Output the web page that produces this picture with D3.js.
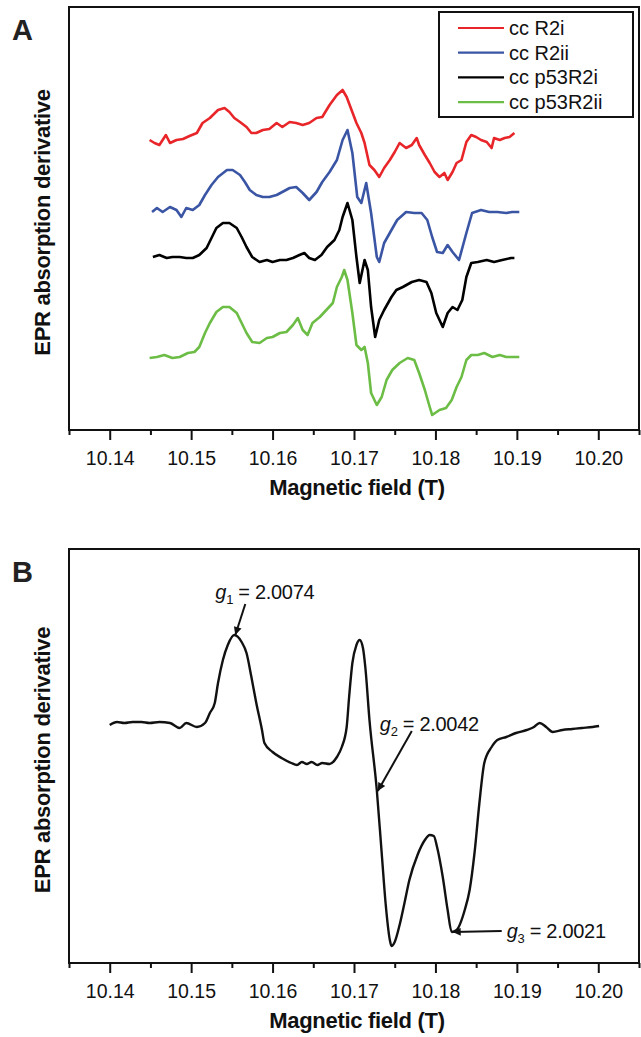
<!DOCTYPE html>
<html>
<head>
<meta charset="utf-8">
<script src="https://cdn.jsdelivr.net/npm/d3@7/dist/d3.min.js"></script>
<style>
  html, body { margin: 0; padding: 0; background: #fff; }
  svg { display: block; font-family: "Liberation Sans", Arial, Helvetica, sans-serif; }
</style>
</head>
<body>
<svg id="chart" width="641" height="1037"></svg>
<script>
// ---------------- DATA ----------------
// x: magnetic field (T), y: EPR absorption derivative (arbitrary units, traces offset vertically)
const seriesNames = ["cc R2i", "cc R2ii", "cc p53R2i", "cc p53R2ii"];
const seriesColors = ["#e8262a", "#3a55a4", "#000000", "#6cbd45"];

const ccR2i = [
  [10.1449,290],[10.1455,287],[10.1461,285],[10.1469,295],[10.1474,287],[10.1482,290],[10.1490,291],
  [10.1498,294],[10.1507,297],[10.1514,307],[10.1523,312],[10.1533,320],[10.1541,322],[10.1547,318],
  [10.1553,312],[10.1560,308],[10.1568,303],[10.1574,297],[10.1580,297],[10.1588,300],[10.1596,301],
  [10.1605,307],[10.1612,303],[10.1621,308],[10.1629,307],[10.1637,305],[10.1645,307],[10.1654,312],
  [10.1661,313],[10.1670,325],[10.1679,335],[10.1686,340],[10.1691,333],[10.1697,320],[10.1703,307],
  [10.1709,297],[10.1713,287],[10.1719,265],[10.1725,260],[10.1731,253],[10.1737,262],[10.1744,270],
  [10.1750,278],[10.1756,287],[10.1764,282],[10.1771,285],[10.1777,292],[10.1780,285],[10.1787,275],
  [10.1793,267],[10.1799,258],[10.1805,253],[10.1811,257],[10.1815,250],[10.1821,258],[10.1826,267],
  [10.1832,270],[10.1838,288],[10.1844,295],[10.1850,293],[10.1856,290],[10.1863,288],[10.1869,282],
  [10.1872,292],[10.1879,290],[10.1885,292],[10.1891,293],[10.1897,297]
];
const ccR2ii = [
  [10.1452,218],[10.1458,222],[10.1465,218],[10.1474,223],[10.1482,220],[10.1488,213],[10.1494,222],
  [10.1502,220],[10.1510,225],[10.1517,235],[10.1525,245],[10.1533,253],[10.1544,260],[10.1551,260],
  [10.1560,255],[10.1566,248],[10.1572,240],[10.1580,235],[10.1588,233],[10.1596,233],[10.1605,235],
  [10.1612,238],[10.1621,242],[10.1629,243],[10.1637,237],[10.1645,230],[10.1654,238],[10.1661,248],
  [10.1670,258],[10.1679,270],[10.1686,290],[10.1692,300],[10.1698,277],[10.1704,233],[10.1709,227],
  [10.1715,247],[10.1721,217],[10.1728,173],[10.1731,168],[10.1737,187],[10.1746,200],[10.1753,210],
  [10.1764,218],[10.1774,217],[10.1783,217],[10.1790,210],[10.1796,193],[10.1802,178],[10.1809,177],
  [10.1815,185],[10.1821,178],[10.1829,170],[10.1838,197],[10.1845,217],[10.1856,220],[10.1866,218],
  [10.1876,218],[10.1887,217],[10.1894,218],[10.1903,218]
];
const ccp53R2i = [
  [10.1453,173],[10.1461,175],[10.1470,172],[10.1477,173],[10.1486,173],[10.1494,172],[10.1502,172],
  [10.1510,175],[10.1519,182],[10.1525,192],[10.1531,202],[10.1539,207],[10.1547,207],[10.1556,202],
  [10.1562,193],[10.1568,183],[10.1575,173],[10.1584,168],[10.1593,170],[10.1600,168],[10.1609,170],
  [10.1617,170],[10.1625,172],[10.1633,175],[10.1639,177],[10.1645,172],[10.1652,170],[10.1660,175],
  [10.1667,183],[10.1676,190],[10.1682,200],[10.1686,213],[10.1692,227],[10.1698,210],[10.1703,173],
  [10.1707,147],[10.1713,170],[10.1717,160],[10.1721,123],[10.1726,93],[10.1731,110],[10.1737,120],
  [10.1746,133],[10.1752,140],[10.1760,143],[10.1771,148],[10.1780,150],[10.1789,148],[10.1795,137],
  [10.1801,117],[10.1809,103],[10.1815,117],[10.1821,123],[10.1827,120],[10.1833,130],[10.1838,153],
  [10.1844,167],[10.1852,168],[10.1863,170],[10.1872,168],[10.1882,170],[10.1893,172],[10.1897,172]
];
const ccp53R2ii = [
  [10.1449,72],[10.1458,73],[10.1467,75],[10.1477,72],[10.1486,73],[10.1496,77],[10.1504,78],
  [10.1510,83],[10.1517,97],[10.1523,107],[10.1531,118],[10.1539,123],[10.1547,123],[10.1556,117],
  [10.1562,107],[10.1568,97],[10.1575,88],[10.1584,87],[10.1593,92],[10.1600,93],[10.1609,97],
  [10.1617,98],[10.1625,105],[10.1631,112],[10.1637,100],[10.1643,95],[10.1649,107],[10.1658,113],
  [10.1666,120],[10.1674,127],[10.1679,143],[10.1685,153],[10.1688,160],[10.1692,150],[10.1698,117],
  [10.1703,85],[10.1709,80],[10.1713,83],[10.1717,67],[10.1721,37],[10.1728,25],[10.1734,33],
  [10.1740,50],[10.1747,60],[10.1756,67],[10.1766,72],[10.1774,70],[10.1780,57],[10.1787,40],
  [10.1793,23],[10.1796,15],[10.1805,20],[10.1813,22],[10.1820,30],[10.1826,43],[10.1832,53],
  [10.1838,70],[10.1844,75],[10.1852,75],[10.1860,77],[10.1870,73],[10.1879,75],[10.1887,73],
  [10.1894,73],[10.1903,73]
];
const seriesA = [ccR2i, ccR2ii, ccp53R2i, ccp53R2ii];

const traceB = [
  [10.1400,238],[10.1409,241],[10.1418,240],[10.1428,241],[10.1439,241],[10.1449,240],[10.1461,241],
  [10.1474,240],[10.1486,235],[10.1494,240],[10.1507,236],[10.1517,240],[10.1523,250],[10.1529,260],
  [10.1533,280],[10.1539,303],[10.1545,318],[10.1553,328],[10.1562,321],[10.1568,310],[10.1574,286],
  [10.1580,260],[10.1587,233],[10.1590,220],[10.1600,211],[10.1611,205],[10.1623,200],[10.1630,198],
  [10.1636,201],[10.1642,199],[10.1648,201],[10.1655,198],[10.1661,200],[10.1670,199],[10.1679,206],
  [10.1685,216],[10.1691,236],[10.1694,266],
  [10.1698,300],[10.1703,318],[10.1707,323],[10.1711,315],[10.1714,295],[10.1719,243],[10.1728,173],
  [10.1734,110],[10.1739,58],[10.1744,23],[10.1746,17],[10.1750,21],[10.1756,38],[10.1762,60],
  [10.1768,83],[10.1778,108],[10.1787,123],[10.1793,128],[10.1798,127],[10.1802,116],[10.1809,86],
  [10.1815,53],[10.1820,31],[10.1826,33],[10.1836,53],[10.1842,73],[10.1848,110],[10.1854,160],
  [10.1860,200],[10.1869,216],[10.1876,223],[10.1887,226],[10.1899,230],[10.1912,233],[10.1921,236],
  [10.1928,240],[10.1936,236],[10.1944,231],[10.1956,233],[10.1968,234],[10.1980,235],[10.1993,236],
  [10.2001,237]
];

// g-value annotations: [subscript, label, field position, signal value]
const gLabels = [
  ["1", "2.0074", 10.1553, 328],
  ["2", "2.0042", 10.1728, 172],
  ["3", "2.0021", 10.1820, 31]
];

const xTicks = [10.14, 10.15, 10.16, 10.17, 10.18, 10.19, 10.20];
const xMinorTicks = [10.135, 10.145, 10.155, 10.165, 10.175, 10.185, 10.195, 10.205];
const xDomain = [10.135, 10.205];
const yDomainA = [0, 423];
const yDomainB = [0, 414];

// ---------------- DRAW ----------------
const svg = d3.select("#chart");
const L = 69, R = 639;

function panel(top, bottom, yDomain, letter, letterY) {
  const x = d3.scaleLinear().domain(xDomain).range([L, R]);
  const y = d3.scaleLinear().domain(yDomain).range([bottom, top]);
  const g = svg.append("g");

  g.append("rect").attr("x", L).attr("y", top).attr("width", R - L).attr("height", bottom - top)
    .attr("fill", "none").attr("stroke", "#111").attr("stroke-width", 2);

  const minor = d3.axisBottom(x).tickValues(xMinorTicks).tickSize(5).tickFormat("");
  g.append("g").attr("transform", `translate(0,${bottom})`).call(minor)
    .call(s => s.select(".domain").remove())
    .call(s => s.selectAll("line").attr("stroke", "#111").attr("stroke-width", 2));
  const major = d3.axisBottom(x).tickValues(xTicks).tickSize(10).tickPadding(11)
    .tickFormat(d3.format(".2f"));
  g.append("g").attr("transform", `translate(0,${bottom})`).call(major)
    .call(s => s.select(".domain").remove())
    .call(s => s.selectAll("line").attr("stroke", "#111").attr("stroke-width", 2))
    .call(s => s.selectAll("text").attr("font-size", 19.5).attr("fill", "#111")
      .attr("font-family", "'Liberation Sans', Arial, sans-serif"));

  g.append("text").attr("x", (L + R) / 2 + 3).attr("y", bottom + 65)
    .attr("text-anchor", "middle").attr("font-weight", "bold").attr("font-size", 22)
    .attr("fill", "#111").attr("letter-spacing", -0.3).text("Magnetic field (T)");
  g.append("text").attr("transform", `translate(50,${(top + bottom) / 2 + 4}) rotate(-90)`)
    .attr("text-anchor", "middle").attr("font-weight", "bold").attr("font-size", 22)
    .attr("fill", "#111").attr("letter-spacing", -0.3).text("EPR absorption derivative");

  g.append("text").attr("x", 12).attr("y", letterY).attr("font-weight", "bold")
    .attr("font-size", 29).attr("fill", "#222").text(letter);

  return { g, x, y };
}

// Panel A
const A = panel(7, 430, yDomainA, "A", 40);
const lineA = d3.line().x(d => A.x(d[0])).y(d => A.y(d[1])).curve(d3.curveLinear);
seriesA.forEach((s, i) => {
  A.g.append("path").datum(s).attr("d", lineA).attr("fill", "none")
    .attr("stroke", seriesColors[i]).attr("stroke-width", 2.6).attr("stroke-linejoin", "round");
});

// legend
const leg = A.g.append("g");
leg.append("rect").attr("x", 439).attr("y", 12).attr("width", 194).attr("height", 105)
  .attr("fill", "#fff").attr("stroke", "#111").attr("stroke-width", 2);
seriesNames.forEach((n, i) => {
  const yy = 28 + i * 24.7;
  leg.append("line").attr("x1", 458).attr("x2", 504).attr("y1", yy).attr("y2", yy)
    .attr("stroke", seriesColors[i]).attr("stroke-width", 2.2);
  leg.append("text").attr("x", 509).attr("y", yy + 7).attr("font-size", 20)
    .attr("fill", "#111").text(n);
});

// Panel B
const B = panel(549, 963, yDomainB, "B", 582);
const lineB = d3.line().x(d => B.x(d[0])).y(d => B.y(d[1])).curve(d3.curveMonotoneX);
B.g.append("path").datum(traceB).attr("d", lineB).attr("fill", "none")
  .attr("stroke", "#111").attr("stroke-width", 2.4).attr("stroke-linejoin", "round");

svg.append("defs").append("marker").attr("id", "arr").attr("viewBox", "0 0 10 10")
  .attr("refX", 10).attr("refY", 5).attr("markerWidth", 12).attr("markerHeight", 8)
  .attr("markerUnits", "userSpaceOnUse").attr("orient", "auto")
  .append("path").attr("d", "M0,0 L10,5 L0,10 Z").attr("fill", "#111");

// annotation layout offsets relative to arrow tip
const annLayout = [
  { sx: 11, sy: -31, tx: -19, ty: -36 },
  { sx: 35, sy: -60, tx: 3, ty: -60 },
  { sx: 50, sy: -1, tx: 55, ty: 6 }
];
gLabels.forEach((gl, i) => {
  const px = B.x(gl[2]), py = B.y(gl[3]);
  const lay = annLayout[i];
  B.g.append("line").attr("x1", px + lay.sx).attr("y1", py + lay.sy).attr("x2", px + 1).attr("y2", py)
    .attr("stroke", "#111").attr("stroke-width", 2).attr("marker-end", "url(#arr)");
  const t = B.g.append("text").attr("x", px + lay.tx).attr("y", py + lay.ty)
    .attr("font-size", 20).attr("fill", "#111").attr("letter-spacing", -0.3);
  t.append("tspan").attr("font-style", "italic").text("g");
  t.append("tspan").attr("font-size", 13).attr("dy", 5).text(gl[0]);
  t.append("tspan").attr("dy", -5).text(" = " + gl[1]);
});
</script>
</body>
</html>
